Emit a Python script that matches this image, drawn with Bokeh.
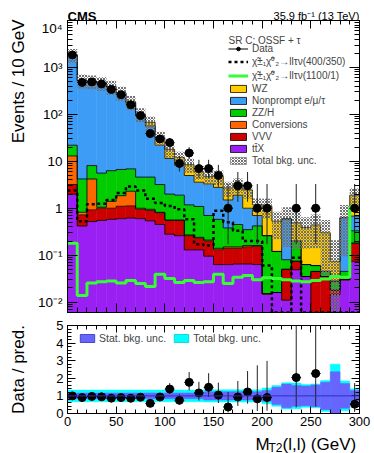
import numpy as np
from bokeh.plotting import figure
from bokeh.models import (Range1d, LogAxis, LinearAxis, FixedTicker, Label, Legend,
                          LegendItem, CustomJSTickFormatter, Span)
from bokeh.layouts import column, row
from bokeh.core.properties import value
from bokeh.embed import file_html
from bokeh.resources import INLINE

FONT = "Liberation Sans"

# ---------------- data ----------------
bin_edges = [0, 10, 20, 30, 40, 50, 60, 70, 80, 90, 100, 110, 120, 130, 140, 150,
             160, 170, 180, 190, 200, 210, 220, 230, 240, 250, 260, 270, 280, 290, 300]
ttx = [2.0, 0.42, 0.52, 0.55, 0.58, 0.60, 0.62, 0.60, 0.54, 0.45, 0.28, 0.26, 0.13, 0.13, 0.095,
       0.063, 0.063, 0.065, 0.065, 0.063, 0.015, 0.016, 0.011, 0.049, 0.035, 0.0, 0.0, 0.0144, 0.030, 0.074]
vvv = [1.2, 0.30, 0.40, 0.45, 0.42, 0.50, 0.50, 0.35, 0.36, 0.35, 0.27, 0.29, 0.13, 0.10, 0.105,
       0.067, 0.077, 0.075, 0.085, 0.093, 0.0, 0.0, 0.039, 0.025, 0.0, 0.045, 0.035, 0.0036, 0.0, 0.106]
conversions = [9.8, 0.10, 3.28, 0.05, 0.40, 0.75, 1.18, 0.05, 0.05, 0.02, 0.01, 0.01, 0.01, 0.01, 0.01,
               0.01, 0.01, 0.01, 0.01, 0.004, 0.0, 0.0, 0.0, 0.0, 0.0, 0.0, 0.0, 0.0, 0.0, 0.0]
zzh = [9.0, 3.38, 3.9, 4.55, 4.9, 4.85, 4.6, 3.6, 3.65, 2.38, 1.44, 1.34, 0.91, 0.85, 0.49,
       0.44, 0.23, 0.30, 0.19, 0.26, 0.245, 0.104, 0.03, 0.126, 0.028, 0.015, 0.01, 0.01, 0.015, 0.15]
nonprompt = [1808, 511, 482, 449, 369, 271, 167, 88, 52, 18.8, 9.5, 6.3, 3.8, 2.5, 2.6,
             2.2, 1.12, 1.45, 0.65, 0.28, 0.0, 0.0, 0.50, 0.0, 0.0, 0.0, 0.0, 0.0, 0.585, 0.35]
wz = [20, 15, 15, 15, 15, 12, 11, 9, 11, 10, 6.5, 3.8, 3.5, 2.4, 1.4,
      2.0, 1.2, 1.3, 1.45, 0.5, 0.84, 0.41, 0.02, 0.29, 0.327, 0.38, 0.255, 0.046, 0.0, 1.22]
data = [1850, 480, 490, 445, 340, 262, 160, 94, 39, 30, 25, 9, 15, 7, 7,
        5, 1, 3, 3, 1, 1, 0, 0, 1, 0, 1, 0, 0, 0, 1]
sig_400_350 = [2.4, 0.53, 1.22, 1.25, 1.5, 2.1, 2.9, 2.4, 1.6, 1.3, 1.12, 0.95, 0.58, 0.17, 0.16,
               0.88, 0.5, 0.33, 0.2, 0.2, 0.06, 0.0, 0.0, 0.088, 0.0, 0.0, 0.0, 0.0, 0.0, 0.0]
sig_1100_1 = [0.18, 0.0139, 0.0256, 0.027, 0.028, 0.0256, 0.029, 0.025, 0.0216, 0.039, 0.032, 0.026,
              0.029, 0.026, 0.027, 0.039, 0.025, 0.034, 0.037, 0.030, 0.033, 0.032, 0.030, 0.028,
              0.027, 0.029, 0.031, 0.035, 0.034, 1.03]
tot_unc_rel = [0.33, 0.33, 0.33, 0.33, 0.33, 0.33, 0.33, 0.33, 0.33, 0.33, 0.33, 0.33, 0.33, 0.33,
               0.35, 0.35, 0.35, 0.35, 0.35, 0.35, 0.45, 0.59, 0.75, 0.73, 0.65, 0.68, 0.88, 1.8, 0.85, 0.4]
stat_unc_rel = [0.16, 0.16, 0.16, 0.16, 0.16, 0.16, 0.16, 0.16, 0.16, 0.16, 0.16, 0.16, 0.16, 0.16,
                0.23, 0.23, 0.23, 0.23, 0.23, 0.23, 0.3, 0.49, 0.67, 0.59, 0.56, 0.62, 0.78, 1.37, 0.7, 0.3]

x_ticks = [0, 50, 100, 150, 200, 250, 300]
log_ticks = [1e-2, 1e-1, 1, 10, 100, 1000, 10000]
ratio_ticks = [0, 1, 2, 3, 4, 5]

colors = {"ttX": "#9a1ff2", "VVV": "#cc0000", "Conv": "#ff6600", "ZZ": "#00cc00",
          "NP": "#3d9cf5", "WZ": "#ffcc00"}

# ---------------- derived ----------------
edges = np.array(bin_edges, dtype=float)
left, right = edges[:-1], edges[1:]
centers = 0.5 * (left + right)
YMIN, YMAX = 6e-3, 1e4
FLOOR = 1e-4

comps = [("ttX", ttx), ("VVV", vvv), ("Conv", conversions), ("ZZ", zzh), ("NP", nonprompt), ("WZ", wz)]
total = np.sum([np.array(c) for _, c in comps], axis=0)


def step_xy(vals):
    xs = np.repeat(edges, 2)[1:-1]
    ys = np.repeat(np.asarray(vals, dtype=float), 2)
    return xs, ys


def style_axis(ax, tin, tmin, labels=True, size="13px"):
    ax.major_tick_in = tin
    ax.major_tick_out = 0
    ax.minor_tick_in = tmin
    ax.minor_tick_out = 0
    ax.axis_line_color = "black"
    ax.major_tick_line_color = "black"
    ax.minor_tick_line_color = "black"
    ax.major_label_text_font = FONT
    ax.major_label_text_color = "black"
    if labels:
        ax.major_label_text_font_size = size
    else:
        ax.formatter = CustomJSTickFormatter(code="return '';")
        ax.major_label_text_font_size = "1px"
        ax.major_label_standoff = 0


def strip(width, height, xr, yr, **borders):
    f = figure(width=width, height=height, x_range=Range1d(*xr), y_range=Range1d(*yr),
               output_backend="svg", toolbar_location=None, x_axis_location=None,
               y_axis_location=None, min_border=0, **borders)
    f.outline_line_color = None
    f.xgrid.grid_line_color = None
    f.ygrid.grid_line_color = None
    return f


MAIN_W = 344
BL, BR = 37, 15

# ---------------- top panel ----------------
p = figure(width=MAIN_W, height=297, x_range=Range1d(0, 300), y_range=Range1d(YMIN, YMAX),
           y_axis_type="log", output_backend="svg", toolbar_location=None,
           min_border_left=BL, min_border_right=BR, min_border_top=0, min_border_bottom=5)
p.xgrid.grid_line_color = None
p.ygrid.grid_line_color = None
p.outline_line_color = "black"
p.background_fill_color = "white"

cum = np.zeros(len(centers))
tops = []
for name, comp in comps:
    bottom = np.maximum(cum, FLOOR)
    cum = cum + np.array(comp, dtype=float)
    top = np.maximum(cum, FLOOR)
    p.quad(left=left, right=right, bottom=bottom, top=top, fill_color=colors[name],
           line_color=colors[name], line_width=0.5)
    tops.append(top)
for top in tops:
    xs, ys = step_xy(top)
    p.line(xs, ys, line_color="black", line_width=0.8)

unc_lo = np.maximum(total * (1 - np.array(tot_unc_rel)), FLOOR)
unc_hi = total * (1 + np.array(tot_unc_rel))
p.quad(left=left, right=right, bottom=unc_lo, top=unc_hi, fill_alpha=0, line_color=None,
       hatch_pattern="diagonal_cross", hatch_color="#707070", hatch_scale=3, hatch_weight=1)

xs, ys = step_xy(np.maximum(np.array(sig_400_350), YMIN))
r_sig1 = p.line(xs, ys, line_color="black", line_width=2.5, line_dash="3 3")
xs, ys = step_xy(np.maximum(np.array(sig_1100_1), YMIN))
r_sig2 = p.line(xs, ys, line_color="#33ff33", line_width=3)

d = np.array(data, dtype=float)
m = d > 0
n = d[m]
lo = n * (1 - 1 / (9 * n) - 1 / (3 * np.sqrt(n))) ** 3
hi = (n + 1) * (1 - 1 / (9 * (n + 1)) + 1 / (3 * np.sqrt(n + 1))) ** 3
p.segment(x0=centers[m], x1=centers[m], y0=lo, y1=hi, line_color="#222222", line_width=1)
r_dh = p.segment(x0=left[m], x1=right[m], y0=n, y1=n, line_color="black", line_width=1)
r_dp = p.scatter(centers[m], n, size=8, color="black")

p.xaxis.ticker = FixedTicker(ticks=x_ticks, minor_ticks=list(range(0, 301, 10)))
style_axis(p.xaxis[0], 9, 5, labels=False)
log_minor = [mm * 10.0 ** e for e in range(-3, 4) for mm in range(2, 10)]
p.yaxis.ticker = FixedTicker(ticks=log_ticks, minor_ticks=log_minor)
p.yaxis.formatter = CustomJSTickFormatter(code="""
const e = Math.round(Math.log10(tick));
if (e == 0) return "1";
if (e == 1) return "10";
const sup = {"-":"\u207b","0":"\u2070","1":"\u00b9","2":"\u00b2","3":"\u00b3","4":"\u2074","5":"\u2075","6":"\u2076","7":"\u2077","8":"\u2078","9":"\u2079"};
return "10" + String(e).split("").map(c => sup[c]).join("");
""")
style_axis(p.yaxis[0], 10, 5, labels=True, size="13.5px")
p.yaxis.major_label_standoff = 5
ax_r = LogAxis(ticker=FixedTicker(ticks=log_ticks, minor_ticks=log_minor))
style_axis(ax_r, 10, 5, labels=False)
p.add_layout(ax_r, "right")
ax_t = LinearAxis(ticker=FixedTicker(ticks=x_ticks, minor_ticks=list(range(0, 301, 10))))
style_axis(ax_t, 8, 4, labels=False)
p.add_layout(ax_t, "above")


def dummy_box(fig, fill, line="black", **kw):
    return fig.quad(left=[0], right=[0], bottom=[1], top=[1], fill_color=fill, line_color=line,
                    line_width=0.8, **kw)


leg_items = [
    LegendItem(label="Data", renderers=[r_dh, r_dp]),
    LegendItem(label="\u03c7\u0303\u00b1\u2081\u03c7\u0303\u2070\u2082\u2192ll\u03c4\u03bd(400/350)", renderers=[r_sig1]),
    LegendItem(label="\u03c7\u0303\u00b1\u2081\u03c7\u0303\u2070\u2082\u2192ll\u03c4\u03bd(1100/1)", renderers=[r_sig2]),
    LegendItem(label="WZ", renderers=[dummy_box(p, colors["WZ"])]),
    LegendItem(label="Nonprompt e/\u03bc/\u03c4", renderers=[dummy_box(p, colors["NP"])]),
    LegendItem(label="ZZ/H", renderers=[dummy_box(p, colors["ZZ"])]),
    LegendItem(label="Conversions", renderers=[dummy_box(p, colors["Conv"])]),
    LegendItem(label="VVV", renderers=[dummy_box(p, colors["VVV"])]),
    LegendItem(label="tt\u0304X", renderers=[dummy_box(p, colors["ttX"])]),
    LegendItem(label="Total bkg. unc.", renderers=[dummy_box(p, "white", line="#888888",
               hatch_pattern="diagonal_cross", hatch_color="#707070", hatch_scale=3,
               hatch_weight=1)]),
]
leg = Legend(items=leg_items, location=(159, 144),
             label_text_font=FONT, label_text_font_size="10px",
             label_height=12, glyph_height=9, glyph_width=20, label_standoff=4, spacing=0,
             padding=2, margin=0, background_fill_alpha=0, border_line_alpha=0)
p.add_layout(leg)
p.add_layout(Label(x=161, y=272.5, x_units="screen", y_units="screen", text="SR C: OSSF + \u03c4",
                   text_font=FONT, text_font_size="10px", text_align="left",
                   text_baseline="alphabetic"))

# ---------------- ratio panel ----------------
p2 = figure(width=MAIN_W, height=114, x_range=p.x_range, y_range=Range1d(0, 5),
            output_backend="svg", toolbar_location=None,
            min_border_left=BL, min_border_right=BR, min_border_top=8, min_border_bottom=18)
p2.xgrid.grid_line_color = None
p2.ygrid.grid_line_color = None
p2.outline_line_color = "black"

tr = np.array(tot_unc_rel)
sr = np.array(stat_unc_rel)
p2.quad(left=left, right=right, bottom=np.maximum(1 - tr, 0), top=1 + tr,
        fill_color="#00ffff", line_color="#00ffff", line_width=0.5)
p2.quad(left=left, right=right, bottom=np.maximum(1 - sr, 0), top=1 + sr,
        fill_color="#6666ff", line_color="#6666ff", line_width=0.5)
p2.add_layout(Span(location=1, dimension="width", line_color="#2e2eb8", line_width=1))

ratio = n / total[m]
p2.segment(x0=centers[m], x1=centers[m], y0=lo / total[m], y1=hi / total[m],
           line_color="#222222", line_width=1)
p2.segment(x0=left[m], x1=right[m], y0=ratio, y1=ratio, line_color="black", line_width=1)
p2.scatter(centers[m], ratio, size=8, color="black")

p2.xaxis.ticker = FixedTicker(ticks=x_ticks, minor_ticks=list(range(0, 301, 10)))
style_axis(p2.xaxis[0], 7, 4, labels=True, size="13px")
p2.xaxis.major_label_standoff = 3
ratio_minor = [i * 0.2 for i in range(26)]
p2.yaxis.ticker = FixedTicker(ticks=ratio_ticks, minor_ticks=ratio_minor)
style_axis(p2.yaxis[0], 8, 4, labels=True, size="13px")
p2.yaxis.major_label_standoff = 4
ax_r2 = LinearAxis(ticker=FixedTicker(ticks=ratio_ticks, minor_ticks=ratio_minor))
style_axis(ax_r2, 8, 4, labels=False)
p2.add_layout(ax_r2, "right")
ax_t2 = LinearAxis(ticker=FixedTicker(ticks=x_ticks, minor_ticks=list(range(0, 301, 10))))
style_axis(ax_t2, 7, 4, labels=False)
p2.add_layout(ax_t2, "above")

rs = dummy_box(p2, "#6666ff", line="#2e2eb8")
rt = dummy_box(p2, "#00ffff", line="#00cccc")
leg2 = Legend(items=[LegendItem(label="Stat. bkg. unc.", renderers=[rs]),
                     LegendItem(label="Total bkg. unc.", renderers=[rt])],
              location=(9, 67), orientation="horizontal", label_text_font=FONT,
              label_text_font_size="10.5px", label_height=12, glyph_height=10, glyph_width=18,
              label_standoff=3, spacing=6, padding=2, margin=0,
              background_fill_alpha=0, border_line_alpha=0)
p2.add_layout(leg2)

# ---------------- text strips ----------------
top_strip = strip(MAIN_W, 20, (0, 292), (0, 20), min_border_left=BL, min_border_right=BR)
top_strip.text(x=[0], y=[4.5], text=["CMS"], text_font=value(FONT), text_font_size=value("13px"),
               text_font_style="bold", text_align="left", text_baseline="alphabetic")
top_strip.text(x=[292], y=[4.5], text=["35.9 fb\u207b\u00b9 (13 TeV)"], text_font=value(FONT),
               text_font_size=value("11px"), text_align="right", text_baseline="alphabetic")

bottom_strip = strip(MAIN_W, 22, (0, 292), (0, 22), min_border_left=BL, min_border_right=BR)
bottom_strip.text(x=[188], y=[9.5], text=["M"], text_font=value(FONT), text_font_size=value("17px"),
                  text_align="left", text_baseline="alphabetic")
bottom_strip.text(x=[201], y=[5.7], text=["T2"], text_font=value(FONT), text_font_size=value("12px"),
                  text_align="left", text_baseline="alphabetic")
bottom_strip.text(x=[215], y=[9.5], text=["(l,l) (GeV)"], text_font=value(FONT),
                  text_font_size=value("17px"), text_align="left", text_baseline="alphabetic")

left_strip = strip(30, 453, (0, 30), (0, 453))
left_strip.text(x=[18], y=[434], text=["Events / 10 GeV"], angle=np.pi / 2, text_font=value(FONT),
                text_font_size=value("17px"), text_align="right", text_baseline="middle")
left_strip.text(x=[18], y=[84], text=["Data / pred."], angle=np.pi / 2, text_font=value(FONT),
                text_font_size=value("17px"), text_align="center", text_baseline="middle")

layout = row(left_strip, column(top_strip, p, p2, bottom_strip))
open("out.html", "w").write(file_html(layout, INLINE))
